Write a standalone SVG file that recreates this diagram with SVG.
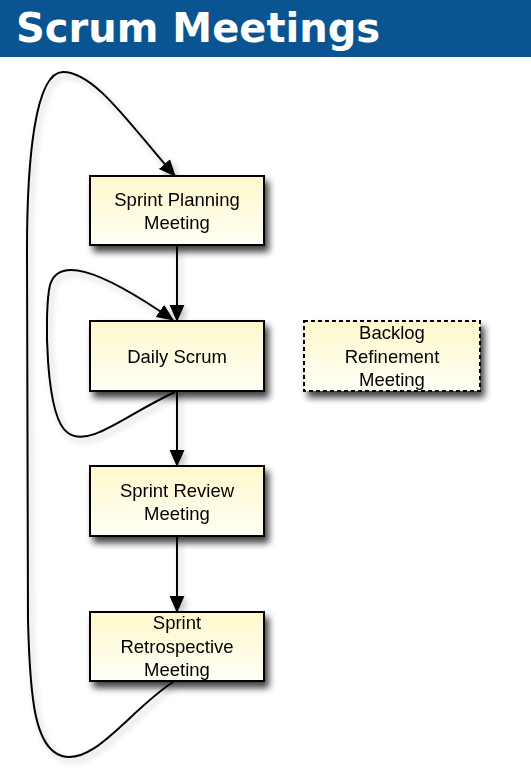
<svg xmlns="http://www.w3.org/2000/svg" width="531" height="772" viewBox="0 0 531 772">
<style>
.box{fill:url(#fillg);stroke:#000;stroke-width:2;}
.dash{stroke-dasharray:4 3;}
.lbl{font-family:"Liberation Sans",Arial,sans-serif;font-size:18.5px;fill:#000;text-anchor:middle;}
.edge{fill:none;stroke:#000;stroke-width:2;}
.title{font-family:"DejaVu Sans",Verdana,sans-serif;font-weight:bold;font-size:40px;fill:#fff;}
</style>
<defs>
<linearGradient id="fillg" x1="0" y1="0" x2="0" y2="1">
<stop offset="0" stop-color="#fff8cc"/>
<stop offset="1" stop-color="#fffff6"/>
</linearGradient>
<filter id="shadow" x="-20%" y="-20%" width="150%" height="170%">
<feGaussianBlur in="SourceAlpha" stdDeviation="3.5"/>
<feOffset dx="4" dy="6" result="b"/>
<feComponentTransfer><feFuncA type="linear" slope="0.75"/></feComponentTransfer>
<feMerge><feMergeNode/><feMergeNode in="SourceGraphic"/></feMerge>
</filter>
<filter id="eshadow" x="-20%" y="-20%" width="150%" height="150%">
<feGaussianBlur in="SourceAlpha" stdDeviation="3"/>
<feOffset dx="3" dy="4" result="b"/>
<feComponentTransfer><feFuncA type="linear" slope="0.25"/></feComponentTransfer>
<feMerge><feMergeNode/><feMergeNode in="SourceGraphic"/></feMerge>
</filter>
<marker id="arr" markerUnits="userSpaceOnUse" markerWidth="17" markerHeight="17" viewBox="0 0 16 14" refX="15" refY="7" orient="auto">
<path d="M0,0 L16,7 L0,14 Z" fill="#000"/>
</marker>
</defs>
<rect x="0" y="0" width="531" height="57" fill="#0a5591"/>
<text class="title" x="16" y="42">Scrum Meetings</text>
<g id="connectors" filter="url(#eshadow)">
<path class="edge" d="M177,246 L177,321" marker-end="url(#arr)"/>
<path class="edge" d="M177,391 L177,466" marker-end="url(#arr)"/>
<path class="edge" d="M177,536 L177,612" marker-end="url(#arr)"/>
<path class="edge" d="M175,392 C 125,415 90,448 68,433 C 45,418 44,310 50,285 C 58,258 95,266 173,320" marker-end="url(#arr)"/>
<path class="edge" d="M173,682 C 130,710 95,765 62,756 C 35,748 30,700 28,620 L 27,250 C 27,160 35,72 63,72 C 95,72 130,125 175,176" marker-end="url(#arr)"/>
</g>
<g id="node-planning" filter="url(#shadow)">
<rect class="box" x="90" y="176" width="174" height="69"/>
<text class="lbl" x="177" y="206">Sprint Planning</text>
<text class="lbl" x="177" y="229">Meeting</text>
</g>
<g id="node-daily" filter="url(#shadow)">
<rect class="box" x="90" y="321" width="174" height="70"/>
<text class="lbl" x="177" y="363">Daily Scrum</text>
</g>
<g id="node-review" filter="url(#shadow)">
<rect class="box" x="90" y="466" width="174" height="70"/>
<text class="lbl" x="177" y="497">Sprint Review</text>
<text class="lbl" x="177" y="520">Meeting</text>
</g>
<g id="node-retro" filter="url(#shadow)">
<rect class="box" x="90" y="612" width="174" height="69"/>
<text class="lbl" x="177" y="629">Sprint</text>
<text class="lbl" x="177" y="653">Retrospective</text>
<text class="lbl" x="177" y="676">Meeting</text>
</g>
<g id="node-backlog" filter="url(#shadow)">
<rect class="box dash" x="304" y="321" width="176" height="70"/>
<text class="lbl" x="392" y="339">Backlog</text>
<text class="lbl" x="392" y="363">Refinement</text>
<text class="lbl" x="392" y="386">Meeting</text>
</g>
</svg>
